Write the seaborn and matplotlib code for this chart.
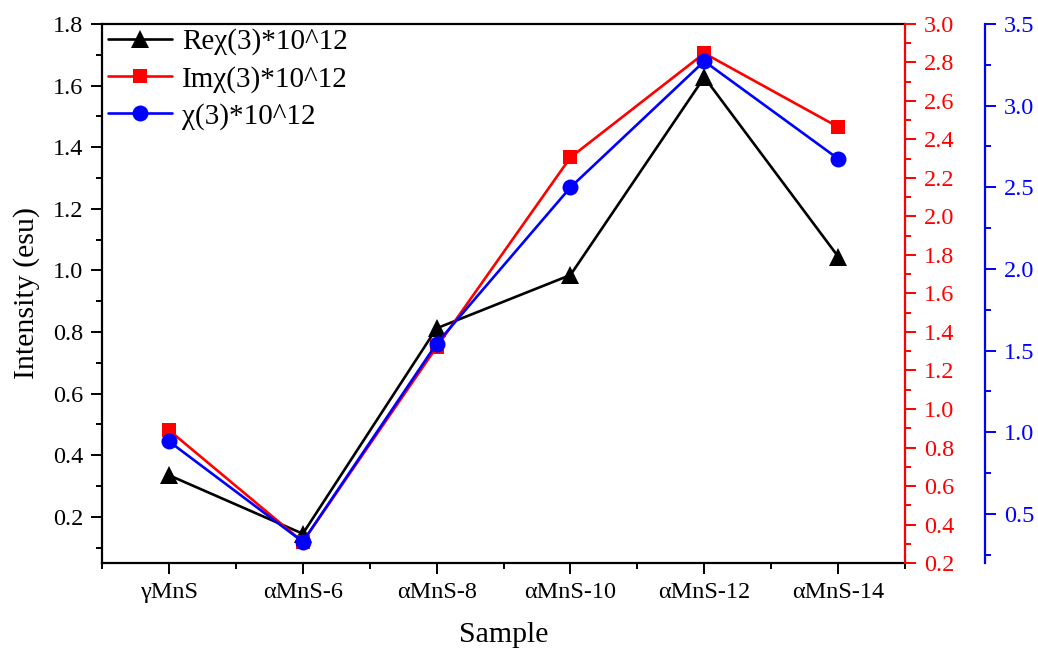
import numpy as np
import pandas as pd
import matplotlib
matplotlib.use("Agg")
import matplotlib.pyplot as plt
from matplotlib.ticker import MultipleLocator, FixedLocator, FormatStrFormatter
import seaborn as sns

samples = ["γMnS", "αMnS-6", "αMnS-8", "αMnS-10", "αMnS-12", "αMnS-14"]
re_chi = [0.335, 0.145, 0.812, 0.985, 1.627, 1.045]
im_chi = [0.89, 0.31, 1.322, 2.307, 2.848, 2.465]
chi = [0.945, 0.33, 1.543, 2.50, 3.272, 2.675]

label_re = "Reχ(3)*10^12"
label_im = "Imχ(3)*10^12"
label_chi = "χ(3)*10^12"

sns.set_theme(style="ticks")
plt.rcParams["font.family"] = ["Liberation Serif", "DejaVu Serif"]
plt.rcParams["text.color"] = "black"
plt.rcParams["axes.labelcolor"] = "black"
plt.rcParams["xtick.color"] = "black"
plt.rcParams["ytick.color"] = "black"
plt.rcParams["axes.edgecolor"] = "black"

fig = plt.figure(figsize=(10.38, 6.52), dpi=100)
ax = fig.add_axes([0.0983, 0.1365, 0.7736, 0.8267])
ax2 = ax.twinx()
ax3 = ax.twinx()

df = pd.DataFrame({"Sample": samples, "re": re_chi, "im": im_chi, "chi": chi})

lw = 1.9
sns.lineplot(data=df, x="Sample", y="re", ax=ax, color="black", marker="^",
             markersize=12.5, markeredgewidth=0, linewidth=lw, sort=False, label=label_re, legend=False)
sns.lineplot(data=df, x="Sample", y="im", ax=ax2, color="#ff0000", marker="s",
             markersize=10.5, markeredgewidth=0, linewidth=lw, sort=False, label=label_im, legend=False)
sns.lineplot(data=df, x="Sample", y="chi", ax=ax3, color="#0000ff", marker="o",
             markersize=11.5, markeredgewidth=0, linewidth=lw, sort=False, label=label_chi, legend=False)

ax.set_xlim(-0.5, 5.5)
ax.set_ylim(0.05, 1.8)
ax2.set_ylim(0.2, 3.0)
ax3.set_ylim(0.2, 3.5)

ax.xaxis.set_minor_locator(FixedLocator(np.arange(-0.5, 6.0, 1.0)))
ax.yaxis.set_major_locator(MultipleLocator(0.2))
ax.yaxis.set_minor_locator(MultipleLocator(0.1))
ax2.yaxis.set_major_locator(MultipleLocator(0.2))
ax2.yaxis.set_minor_locator(MultipleLocator(0.1))
ax3.yaxis.set_major_locator(MultipleLocator(0.5))
ax3.yaxis.set_minor_locator(MultipleLocator(0.25))

for a in (ax, ax2, ax3):
    a.yaxis.set_major_formatter(FormatStrFormatter("%.1f"))
    for s in a.spines.values():
        s.set_linewidth(1.6)

ax.spines["top"].set_visible(True)
ax.spines["right"].set_visible(False)
for a in (ax2, ax3):
    a.spines["left"].set_visible(False)
    a.spines["top"].set_visible(False)
    a.spines["bottom"].set_visible(False)
ax2.spines["right"].set_color("#ff0000")
ax3.spines["right"].set_position(("axes", 1.0996))
ax3.spines["right"].set_color("#0000ff")

ax.tick_params(axis="both", which="major", direction="out", length=8, width=1.4,
               labelsize=17.5, colors="black", pad=5.5)
ax.tick_params(axis="both", which="minor", direction="out", length=4.5, width=1.4, colors="black")
ax.tick_params(axis="x", which="both", top=False)
ax2.tick_params(axis="y", which="major", direction="out", length=8, width=1.4,
                labelsize=17.5, colors="#ff0000", pad=5.5)
ax2.tick_params(axis="y", which="minor", direction="out", length=4.5, width=1.4, colors="#ff0000")
ax3.tick_params(axis="y", which="major", direction="out", length=8, width=1.4,
                labelsize=17.5, colors="#0000ff", pad=5.5)
ax3.tick_params(axis="y", which="minor", direction="out", length=4.5, width=1.4, colors="#0000ff")

ax.set_xlabel("Sample", fontsize=21.5, labelpad=14, color="black")
ax.set_ylabel("Intensity (esu)", fontsize=21.5, labelpad=9, color="black")
ax2.set_ylabel("")
ax3.set_ylabel("")

handles = []
for a in (ax, ax2, ax3):
    h, l = a.get_legend_handles_labels()
    handles += h
labels = [label_re, label_im, label_chi]
ax.legend(handles, labels, loc="upper left", frameon=False, fontsize=21,
          handlelength=2.2, handletextpad=0.35, labelspacing=0.36,
          borderpad=0.2, borderaxespad=0.0, bbox_to_anchor=(0.0, 1.003))

fig.savefig("out.png", dpi=100)
